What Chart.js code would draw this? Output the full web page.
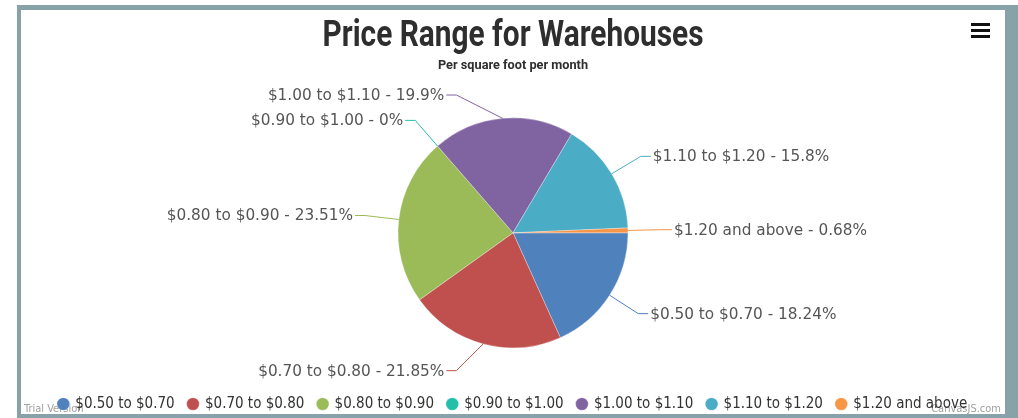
<!DOCTYPE html>
<html>
<head>
<meta charset="utf-8">
<script src="https://cdn.jsdelivr.net/npm/chart.js@4.4.1/dist/chart.umd.min.js"></script>
<style>
  body { margin: 0; background: #fff; }
  #frame {
    position: absolute; left: 17px; top: 5px;
    width: 984px; height: 404px;
    border-style: solid; border-color: #87a3a9;
    border-width: 5px 13px 4px 4px;
    background: #fff;
  }
  #menu { position: absolute; left: 950px; top: 13px; width: 19px; }
  #menu div { height: 3px; background: #111; margin-bottom: 3px; }
</style>
</head>
<body>
<div id="frame">
  <canvas id="chart" width="984" height="404"></canvas>
  <div id="menu"><div></div><div></div><div></div></div>
</div>
<script>
const categories = ['$0.50 to $0.70', '$0.70 to $0.80', '$0.80 to $0.90', '$0.90 to $1.00', '$1.00 to $1.10', '$1.10 to $1.20', '$1.20 and above'];
const shares = [18.24, 21.85, 23.51, 0, 19.9, 15.8, 0.68];
const colors = ['#4F81BC', '#C0504E', '#9BBB58', '#23BFAA', '#8064A1', '#4AACC5', '#F79647'];
const titleText = 'Price Range for Warehouses';
const subtitleText = 'Per square foot per month';

// condensed headline: squeeze a normal bold face to the width of the original
const drawSqueezed = (ctx, text, font, cx, baseline, width) => {
    ctx.save();
    ctx.font = font;
    const k = width / ctx.measureText(text).width;
    ctx.translate(cx, baseline);
    ctx.scale(k, 1);
    ctx.textAlign = 'center';
    ctx.textBaseline = 'alphabetic';
    ctx.fillText(text, 0, 0);
    ctx.restore();
};

const titles = {
    id: 'titles',
    afterDraw(chart) {
        const ctx = chart.ctx;
        const cx = chart.width / 2;
        ctx.fillStyle = '#2e2e2e';
        drawSqueezed(ctx, titleText, 'bold 37px Roboto', cx, 36, 381);
        drawSqueezed(ctx, subtitleText, 'bold 13px Roboto', cx, 59, 150);
    }
};

// index labels with bent leader lines, placed around the pie
const pieLabels = {
    id: 'pieLabels',
    afterDatasetsDraw(chart) {
        const ctx = chart.ctx;
        const meta = chart.getDatasetMeta(0);
        ctx.save();
        ctx.font = '15.3px "DejaVu Sans"';
        ctx.textBaseline = 'middle';
        meta.data.forEach((arc, i) => {
            const p = arc.getProps(['x', 'y', 'startAngle', 'endAngle', 'outerRadius'], true);
            const mid = (p.startAngle + p.endAngle) / 2;
            const cos = Math.cos(mid), sin = Math.sin(mid);
            const r2 = p.outerRadius + 34;
            const sx = p.x + p.outerRadius * cos, sy = p.y + p.outerRadius * sin;
            let dy = r2 * sin;
            const lim = r2 * 0.925;
            if (dy > lim) dy = lim;
            if (dy < -lim) dy = -lim;
            const side = cos >= 0 ? 1 : -1;
            const ex = p.x + side * Math.sqrt(r2 * r2 - dy * dy);
            const ey = p.y + dy;
            const hx = ex + side * 10;
            ctx.strokeStyle = colors[i];
            ctx.lineWidth = 1;
            ctx.beginPath();
            ctx.moveTo(sx, sy);
            ctx.lineTo(ex, ey);
            ctx.lineTo(hx, ey);
            ctx.stroke();
            ctx.fillStyle = '#555';
            ctx.textAlign = side > 0 ? 'left' : 'right';
            ctx.fillText(categories[i] + ' - ' + shares[i] + '%', hx + side * 2, ey + 1);
        });
        ctx.restore();
    }
};

const watermark = {
    id: 'watermark',
    beforeDraw(chart) {
        const ctx = chart.ctx;
        ctx.save();
        ctx.font = '11px "DejaVu Sans Condensed"';
        ctx.fillStyle = '#a0a0a0';
        ctx.textBaseline = 'alphabetic';
        ctx.textAlign = 'left';
        ctx.fillText('Trial Version', 3, 402);
        ctx.textAlign = 'right';
        ctx.fillText('CanvasJS.com', chart.width - 4, 402);
        ctx.restore();
    }
};

new Chart(document.getElementById('chart'), {
    type: 'pie',
    data: {
        labels: categories,
        datasets: [{
            data: shares,
            backgroundColor: colors,
            borderColor: 'rgba(255,255,255,0.6)',
            borderWidth: 0.5,
            hoverOffset: 0
        }]
    },
    options: {
        responsive: false,
        animation: false,
        events: [],
        rotation: 90,
        radius: 115,
        layout: { padding: { top: 73, bottom: -7.5 } },
        plugins: {
            legend: {
                position: 'bottom',
                labels: {
                    usePointStyle: true,
                    pointStyle: 'circle',
                    boxWidth: 9,
                    boxHeight: 9,
                    padding: 13.8,
                    color: '#333',
                    font: { family: '"DejaVu Sans Condensed"', size: 15 }
                }
            },
            tooltip: { enabled: false }
        }
    },
    plugins: [watermark, pieLabels, titles]
});
</script>
</body>
</html>
